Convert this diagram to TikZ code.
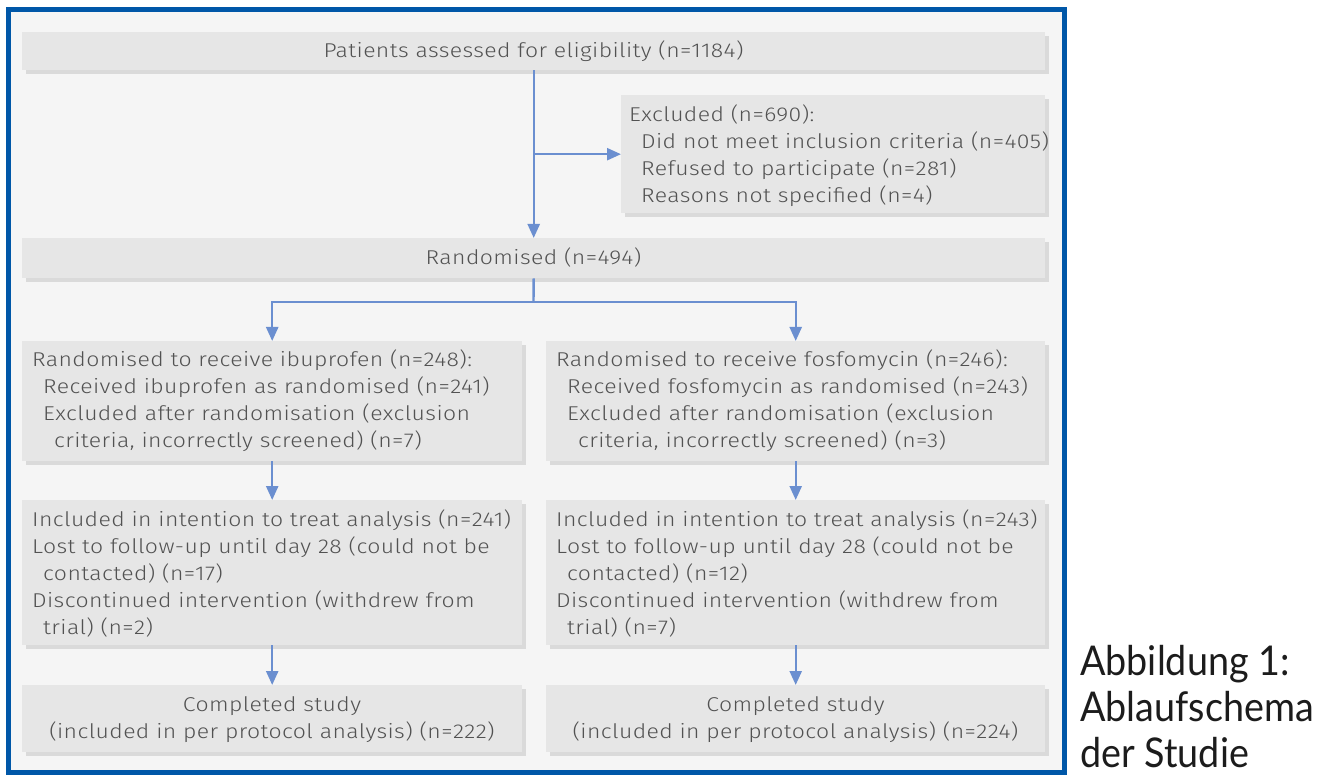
\documentclass[tikz,border=0pt]{standalone}
\usepackage{fontspec}
\setmainfont{Fira Sans Light}[FakeStretch=1.15, LetterSpace=2]
\newfontfamily\capfont{Lato}[FakeStretch=0.92]
\usetikzlibrary{arrows.meta,shadows}
\definecolor{frameblue}{HTML}{0057A8}
\definecolor{bg}{HTML}{F5F5F5}
\definecolor{boxfill}{HTML}{E6E6E6}
\definecolor{boxshadow}{HTML}{DADADA}
\definecolor{arrowblue}{HTML}{6B8FD0}
\definecolor{txt}{HTML}{525252}
\definecolor{captxt}{HTML}{1C1C1C}
\tikzset{
  flowbox/.style={fill=boxfill, inner sep=0pt, anchor=north west,
    general shadow={fill=boxshadow, shadow xshift=4pt, shadow yshift=-4pt}},
  flow/.style={draw=arrowblue, line width=2.4pt},
  flowarrow/.style={flow, -{Triangle[length=14pt,width=12pt]}},
  boxtext/.style={inner sep=0pt, text=txt, font=\fontsize{20}{27}\selectfont},
  lefttext/.style={boxtext, align=left, anchor=north west},
  centertext/.style={boxtext, align=center, anchor=north},
}
\begin{document}
\begin{tikzpicture}[x=1pt, y=-1pt]
\useasboundingbox (0,0) rectangle (1317,783);
\fill[white] (0,0) rectangle (1317,783);
\draw[frameblue, line width=5pt, fill=bg] (8.5,9.5) rectangle (1064.5,772);

% boxes
\node[flowbox, minimum width=1023pt, minimum height=38pt] (top) at (22,32) {};
\node[flowbox, minimum width=424pt, minimum height=118pt] (excl) at (621,95) {};
\node[flowbox, minimum width=1023pt, minimum height=40pt] (rand) at (22,238) {};
\node[flowbox, minimum width=500pt, minimum height=120pt] (L1) at (22,341) {};
\node[flowbox, minimum width=499pt, minimum height=120pt] (R1) at (546,341) {};
\node[flowbox, minimum width=500pt, minimum height=145pt] (L2) at (22,500) {};
\node[flowbox, minimum width=499pt, minimum height=145pt] (R2) at (546,500) {};
\node[flowbox, minimum width=500pt, minimum height=67pt] (L3) at (22,685) {};
\node[flowbox, minimum width=499pt, minimum height=67pt] (R3) at (546,685) {};

% texts
\node[boxtext, anchor=base] (topT) at (533.5,58) {Patients assessed for eligibility (n=1184)};
\node[lefttext] (exclT) at (629,102.1) {\strut Excluded (n=690):\\
  \hspace*{12pt}Did not meet inclusion criteria (n=405)\\
  \hspace*{12pt}Refused to participate (n=281)\\
  \hspace*{12pt}Reasons not specified (n=4)};
\node[boxtext, anchor=base] (randT) at (533.5,265) {Randomised (n=494)};
\node[lefttext] (L1T) at (32,347.8) {\strut Randomised to receive ibuprofen (n=248):\\
  \hspace*{11pt}Received ibuprofen as randomised (n=241)\\
  \hspace*{11pt}Excluded after randomisation (exclusion\\
  \hspace*{22pt}criteria, incorrectly screened) (n=7)};
\node[lefttext] (R1T) at (556,347.8) {\strut Randomised to receive fosfomycin (n=246):\\
  \hspace*{11pt}Received fosfomycin as randomised (n=243)\\
  \hspace*{11pt}Excluded after randomisation (exclusion\\
  \hspace*{22pt}criteria, incorrectly screened) (n=3)};
\node[lefttext] (L2T) at (32,507.1) {\strut Included in intention to treat analysis (n=241)\\
  Lost to follow-up until day 28 (could not be\\
  \hspace*{11pt}contacted) (n=17)\\
  Discontinued intervention (withdrew from\\
  \hspace*{11pt}trial) (n=2)};
\node[lefttext] (R2T) at (556,507.1) {\strut Included in intention to treat analysis (n=243)\\
  Lost to follow-up until day 28 (could not be\\
  \hspace*{11pt}contacted) (n=12)\\
  Discontinued intervention (withdrew from\\
  \hspace*{11pt}trial) (n=7)};
\node[centertext] (L3T) at (272,692.1) {\strut Completed study\\(included in per protocol analysis) (n=222)};
\node[centertext] (R3T) at (795.5,692.1) {\strut Completed study\\(included in per protocol analysis) (n=224)};

% connectors
\coordinate (split) at (533.5,302);
\draw[flowarrow] (top.south) -- (rand.north);
\draw[flowarrow] (top.south |- excl.west) -- (excl.west);
\draw[flow] (rand.south) -- (split);
\draw[flowarrow] (split) -| (L1.north);
\draw[flowarrow] (split) -| (R1.north);
\draw[flowarrow] (L1.south) -- (L2.north);
\draw[flowarrow] (R1.south) -- (R2.north);
\draw[flowarrow] (L2.south) -- (L3.north);
\draw[flowarrow] (R2.south) -- (R3.north);

% caption
\node[inner sep=0pt, anchor=north west, align=left, text=captxt,
  font=\capfont\fontsize{41}{46}\selectfont] (cap) at (1080,642.8)
  {\strut Abbildung 1:\\Ablaufschema\\der Studie};
\end{tikzpicture}
\end{document}
